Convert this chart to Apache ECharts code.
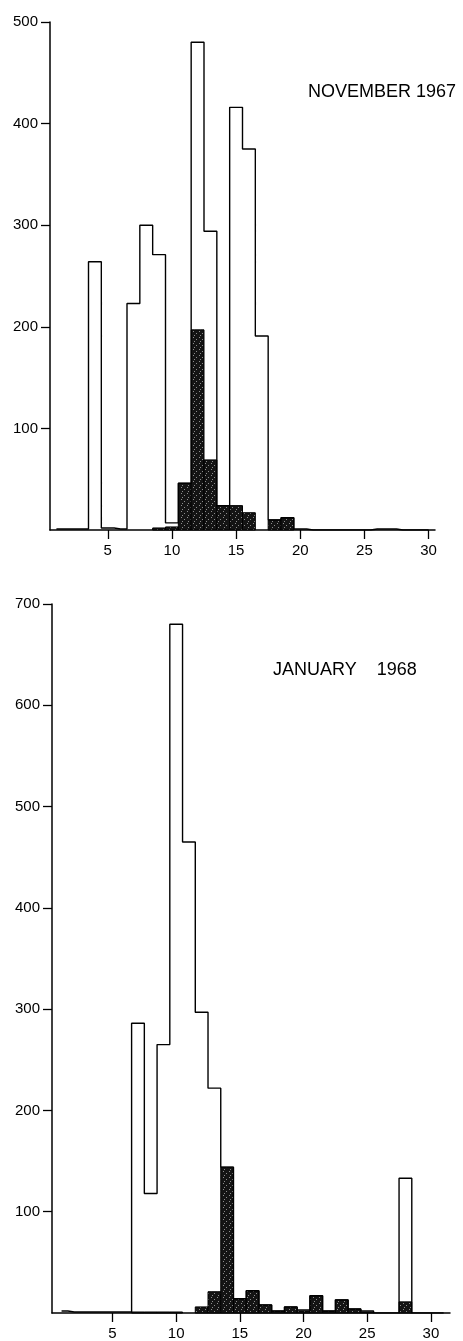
<!DOCTYPE html>
<html><head><meta charset="utf-8">
<script src="https://cdn.jsdelivr.net/npm/echarts@6/dist/echarts.min.js"></script>
<style>html,body{margin:0;padding:0;background:#fff}#c{width:463px;height:1341px}</style>
</head><body><div id="c"></div>
<script>
// ---- data ----
const novBins   = [1,2,3,4,5,6,7,8,9,10,11,12,13,14,15,16,17,18,19,20,21,22,23,24,25,26,27,28,29,30];
const novTotal  = [1,1,1,264,2,1,223,300,271,7,46,480,294,24,416,375,191,10,12,1,0,0,0,0,0,1,1,0,0,0];
const novSubset = [0,0,0,0,0,0,0,0,2,3,46,197,69,24,24,17,0,10,12,0,0,0,0,0,0,0,0,0,0,0];
const janBins   = [1,2,3,4,5,6,7,8,9,10,11,12,13,14,15,16,17,18,19,20,21,22,23,24,25,26,27,28,29,30,31];
const janTotal  = [2,1,1,1,1,1,286,118,265,680,465,297,222,144,14,22,8,2,6,3,17,2,13,4,2,0,0,133,0,0,0];
const janSubset = [0,0,0,0,0,0,1,1,1,1,0,6,21,144,14,22,8,2,6,2,17,2,13,4,1,0,0,11,0,0,0];
const xTickLabels = [5,10,15,20,25,30];
const novYTicks = [100,200,300,400,500];
const janYTicks = [100,200,300,400,500,600,700];
const novTitle = 'NOVEMBER 1967';
const janTitle = 'JANUARY    1968';

// ---- stipple texture for the dark bars ----
const pat = document.createElement('canvas'); pat.width = 6; pat.height = 6;
const pg = pat.getContext('2d'); pg.fillStyle = '#141414'; pg.fillRect(0,0,6,6);
pg.fillStyle = '#8c8c8c'; [[1,1],[4,3],[2,5]].forEach(p => pg.fillRect(p[0],p[1],1,1));
const darkFill = {image: pat, repeat: 'repeat'};

const pairs = (xs, ys) => xs.map((x,i) => [x, ys[i]]);
const nonZero = (xs, ys) => xs.map((x,i) => [x, ys[i]]).filter(d => d[1] > 0);

function histRender(params, api) {
  const x = api.value(0), v = api.value(1);
  const p0 = api.coord([x - 0.5, v]);
  const p1 = api.coord([x + 0.5, 0]);
  return {type:'rect', shape:{x:p0[0], y:p0[1], width:p1[0]-p0[0], height:p1[1]-p0[1]},
          style:{fill: darkFill, stroke:'#000', lineWidth:1}};
}

const font = 'Liberation Sans';
function xAxis(idx, min, max) {
  return {type:'value', gridIndex:idx, min:min, max:max,
    axisLine:{show:true, lineStyle:{color:'#000', width:1.5}},
    axisTick:{show:true, length:9, customValues:xTickLabels, lineStyle:{color:'#000', width:1.3}},
    axisLabel:{customValues:xTickLabels, margin:13, color:'#000', fontSize:15, fontFamily:font},
    splitLine:{show:false}};
}
function yAxis(idx, max, ticks) {
  return {type:'value', gridIndex:idx, min:0, max:max, interval:100,
    axisLine:{show:true, lineStyle:{color:'#000', width:1.5}},
    axisTick:{show:true, length:9, customValues:ticks, lineStyle:{color:'#000', width:1.3}},
    axisLabel:{customValues:ticks, margin:12, color:'#000', fontSize:15, fontFamily:font},
    splitLine:{show:false}};
}

const chart = echarts.init(document.getElementById('c'), null, {renderer:'canvas'});
chart.setOption({
  backgroundColor:'#fff',
  animation:false,
  title:[
    {text:novTitle, left:308, top:83, padding:0, textStyle:{fontSize:18, fontWeight:'normal', color:'#000', fontFamily:font}},
    {text:janTitle, left:273, top:661, padding:0, textStyle:{fontSize:18, fontWeight:'normal', color:'#000', fontFamily:font}}
  ],
  grid:[
    {left:50, top:22, width:385, height:508, outerBoundsMode:'none'},
    {left:52, top:604, width:398, height:709, outerBoundsMode:'none'}
  ],
  xAxis:[xAxis(0, 0.5, 30.5), xAxis(1, 0.25, 31.5)],
  yAxis:[yAxis(0, 500, novYTicks), yAxis(1, 700, janYTicks)],
  series:[
    {type:'custom', xAxisIndex:0, yAxisIndex:0, renderItem:histRender, data:nonZero(novBins, novSubset), z:2},
    {type:'line', xAxisIndex:0, yAxisIndex:0, step:'middle', showSymbol:false, data:pairs(novBins, novTotal),
     lineStyle:{color:'#000', width:1.4}, z:3},
    {type:'custom', xAxisIndex:1, yAxisIndex:1, renderItem:histRender, data:nonZero(janBins, janSubset), z:2},
    {type:'line', xAxisIndex:1, yAxisIndex:1, step:'middle', showSymbol:false, data:pairs(janBins, janTotal),
     lineStyle:{color:'#000', width:1.4}, z:3}
  ]
});
</script></body></html>
